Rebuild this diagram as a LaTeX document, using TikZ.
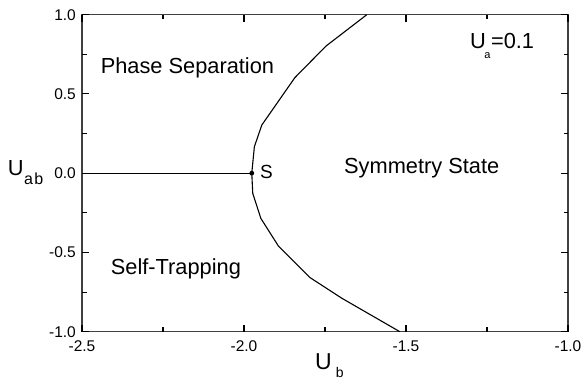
\documentclass[tikz,border=0pt]{standalone}
\usepackage{fontspec}
\setmainfont{Liberation Sans}
\begin{document}
\begin{tikzpicture}[x=1pt,y=1pt,
  lbl/.style={inner sep=0pt, font=\fontsize{21.8}{26}\selectfont},
  ticklbl/.style={inner sep=0pt, font=\fontsize{15.5}{18}\selectfont},
  axframe/.style={draw=black!75, line width=1.3pt},
  tk/.style={draw=black, line width=1.1pt},
  curve/.style={draw=black, line width=1.1pt, line join=round},
  sdot/.style={circle, fill=black, inner sep=0pt, minimum size=4.8pt}]
\useasboundingbox (0,0) rectangle (584,381);
\fill[white] (0,0) rectangle (584,381);
\begin{scope}[x=324pt, y=158.5pt, shift={(892pt,207.8pt)}]
  \coordinate (ll) at (-2.5,-1);
  \coordinate (ur) at (-1,1);
  \draw[axframe] (ll) rectangle (ur);
  % major ticks
  \foreach \u in {-2.5,-2,-1.5,-1} {
    \draw[tk] (\u,-1) -- ++(0,7pt);
    \draw[tk] (\u,1) -- ++(0,-7pt);
  }
  \foreach \u in {-2.25,-1.75,-1.25} {
    \draw[tk] (\u,-1) -- ++(0,4.5pt);
    \draw[tk] (\u,1) -- ++(0,-4.5pt);
  }
  \foreach \v in {-1,-0.5,0,0.5,1} {
    \draw[tk] (-2.5,\v) -- ++(7pt,0);
    \draw[tk] (-1,\v) -- ++(-7pt,0);
  }
  \foreach \v in {-0.75,-0.25,0.25,0.75} {
    \draw[tk] (-2.5,\v) -- ++(4.5pt,0);
    \draw[tk] (-1,\v) -- ++(-4.5pt,0);
  }
  % tick labels
  \foreach \v/\t [count=\i] in {-1/-1.0,-0.5/-0.5,0/0.0,0.5/0.5,1/1.0}
    \node[ticklbl, anchor=east] (yl\i) at ([xshift=-6pt]-2.5,\v) {\t};
  \foreach \u/\t [count=\i] in {-2.5/-2.5,-2/-2.0,-1.5/-1.5,-1/-1.0}
    \node[ticklbl, anchor=base] (xl\i) at ([yshift=-19.3pt]\u,-1) {\t};
  % boundary curve
  \draw[curve] plot coordinates {(-1.621,1.0) (-1.747,0.802) (-1.843,0.603)
    (-1.945,0.304) (-1.968,0.167) (-1.976,0.0) (-1.973,-0.127) (-1.948,-0.285)
    (-1.894,-0.459) (-1.796,-0.659) (-1.698,-0.789) (-1.519,-1.0)};
  % line to S
  \coordinate (y0) at (-2.5,0);
  \node[sdot] (S) at (-1.976,0) {};
  \draw[curve] (y0) -- (S.center);
\end{scope}
% region labels
\node[lbl, anchor=base west] (ps) at (100.6,307.7) {Phase Separation};
\node[lbl, anchor=base west] (st) at (110.7,106.7) {Self-Trapping};
\node[lbl, anchor=base west] (ss) at (344,207.7) {Symmetry State};
\node[lbl, anchor=base west] (ua) at (470,332.7) {U\kern-1.5pt\raisebox{-10pt}{\fontsize{11}{11}\selectfont a}\kern0.5pt=0.1};
\node[anchor=base west, inner sep=0pt, font=\fontsize{19}{22}\selectfont] (slbl) at (259.8,203) {S};
% axis titles
\node[lbl, anchor=base west] (uab) at (7.6,206) {U\kern0.5pt\raisebox{-10pt}{\fontsize{16}{16}\selectfont a\kern1.5pt b}};
\node[anchor=base west, inner sep=0pt, font=\fontsize{23}{26}\selectfont] (ub) at (315,12) {U\kern4pt\raisebox{-8.5pt}{\fontsize{14}{14}\selectfont b}};
\end{tikzpicture}
\end{document}
